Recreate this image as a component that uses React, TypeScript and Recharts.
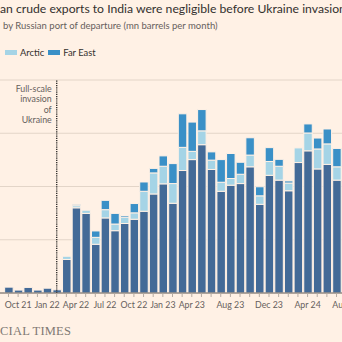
import { Bar, BarChart, CartesianGrid, ReferenceLine, XAxis, YAxis } from "recharts"

// mn barrels per month, by Russian port of departure
const months = [
  "Aug 21", "Sep 21", "Oct 21", "Nov 21", "Dec 21", "Jan 22", "Feb 22", "Mar 22",
  "Apr 22", "May 22", "Jun 22", "Jul 22", "Aug 22", "Sep 22", "Oct 22", "Nov 22",
  "Dec 22", "Jan 23", "Feb 23", "Mar 23", "Apr 23", "May 23", "Jun 23", "Jul 23",
  "Aug 23", "Sep 23", "Oct 23", "Nov 23", "Dec 23", "Jan 24", "Feb 24", "Mar 24",
  "Apr 24", "May 24", "Jun 24", "Jul 24", "Aug 24",
]
const west = [
  0, 2.2, 1.1, 2.1, 1.1, 1.8, 1.2, 12.6,
  32, 29.9, 18.3, 28.2, 23.4, 26.1, 27.7, 30.7,
  37.2, 41, 33.7, 46, 50.1, 55.7, 46.4, 38.2,
  40.5, 41.1, 47.4, 33.3, 44.2, 42.4, 38.4, 49,
  53.4, 46.6, 48.3, 42.4, null,
]
const arctic = [
  0, 0, 0, 0, 0, 0, 0, 1.2,
  0.8, 1.2, 2.6, 3.1, 2.5, 2.4, 2.4, 7.5,
  7.9, 6.6, 7.4, 8.7, 3.1, 5.2, 3.5, 3.4,
  2.5, 3.5, 4.4, 3.2, 5.2, 5.2, 2.9, 5.5,
  6.7, 7.5, 7.7, 5.0, null,
]
const farEast = [
  0, 0, 0, 0, 0, 0, 0, 0,
  0.5, 0, 2.4, 3.5, 4.0, 0.6, 3.5, 3.5,
  1.7, 3.9, 7.5, 12.6, 11, 8, 3.1, 8.5,
  9.4, 4.5, 6.5, 3.4, 5.2, 2.6, 0.8, 0,
  3.4, 4.1, 5.6, 6.9, null,
]
const xLabels = ["Oct 21", "Jan 22", "Apr 22", "Jul 22", "Oct 22", "Jan 23", "Apr 23", "Aug 23", "Dec 23", "Apr 24", "Aug 24"]
const yTicks = [0, 20, 40, 60, 80]
const invasionLines = ["Full-scale", "invasion", "of", "Ukraine"]

const data = months.map((m, i) => ({ month: m, west: west[i], arctic: arctic[i], farEast: farEast[i] }))

const BG = "#fff1e5"
const DARK = "#436a97"
const LIGHT = "#a5d4e6"
const MID = "#3a90c7"
const FONT = "Lato, 'Noto Sans', sans-serif"

function MonthTick(props: any) {
  const { x, y, payload } = props
  if (!xLabels.includes(payload.value)) return null
  return (
    <text x={x} y={y} dy="0.71em" textAnchor="middle" fontSize={8.8} fill="#66605c" fontFamily={FONT}>
      {payload.value}
    </text>
  )
}

function InvasionLabel(props: any) {
  const { viewBox } = props
  const x = viewBox.x - 5
  return (
    <text textAnchor="end" fontSize={8.8} fill="#66605c" fontFamily={FONT}>
      {invasionLines.map((l, i) => (
        <tspan key={l} x={x} y={viewBox.y + 12 + i * 10.3}>
          {l}
        </tspan>
      ))}
    </text>
  )
}

function Swatch({ color }: { color: string }) {
  return <span style={{ display: "inline-block", width: 12, height: 5, background: color, marginRight: 3 }} />
}

export default function App() {
  return (
    <div
      style={{
        position: "fixed",
        left: 0,
        top: 0,
        width: 342,
        height: 342,
        overflow: "hidden",
        background: BG,
        fontFamily: FONT,
        color: "#33302e",
      }}
    >
      <div style={{ position: "absolute", left: 0, top: 1, whiteSpace: "nowrap", fontSize: 12.2 }}>
        <span style={{ position: "absolute", right: "100%" }}>Russi</span>
        an crude exports to India were negligible before Ukraine invasion
      </div>
      <div style={{ position: "absolute", left: 3, top: 20, whiteSpace: "nowrap", fontSize: 9.5, color: "#66605c" }}>
        <span style={{ position: "absolute", right: "100%", paddingRight: 4 }}>Shipments</span>
        by Russian port of departure (mn barrels per month)
      </div>
      <div
        style={{
          position: "absolute",
          left: 5,
          top: 47,
          whiteSpace: "nowrap",
          fontSize: 9.4,
          display: "flex",
          alignItems: "center",
        }}
      >
        <span style={{ position: "absolute", right: "100%", paddingRight: 6, display: "flex", alignItems: "center" }}>
          <Swatch color={DARK} />
          Baltic & Black Sea
        </span>
        <Swatch color={LIGHT} />
        <span style={{ marginRight: 4 }}>Arctic</span>
        <Swatch color={MID} />
        <span>Far East</span>
      </div>
      <div style={{ position: "absolute", left: -6, top: 70 }}>
        <BarChart width={357} height={253} data={data} margin={{ top: 10, right: 0, bottom: 0, left: 0 }} barSize={8.5}>
          <CartesianGrid vertical={false} stroke="#e3d5c8" />
          <YAxis hide domain={[0, 80]} ticks={yTicks} />
          <XAxis
            dataKey="month"
            interval={0}
            height={30}
            stroke="#66605c"
            tickSize={4}
            tickMargin={5}
            tickLine={{ stroke: "#b5aba2" }}
            tick={<MonthTick />}
          />
          <Bar dataKey="west" stackId="a" fill={DARK} stroke={BG} strokeWidth={1} isAnimationActive={false} />
          <Bar dataKey="arctic" stackId="a" fill={LIGHT} stroke={BG} strokeWidth={1} isAnimationActive={false} />
          <Bar dataKey="farEast" stackId="a" fill={MID} stroke={BG} strokeWidth={1} isAnimationActive={false} />
          <ReferenceLine
            x="Feb 22"
            stroke="#33302e"
            strokeDasharray="1.2 1"
            strokeWidth={1.4}
            label={(p: any) => <InvasionLabel {...p} />}
          />
        </BarChart>
      </div>
      <div
        style={{
          position: "absolute",
          left: 0,
          top: 324,
          whiteSpace: "nowrap",
          fontSize: 12.5,
          fontFamily: "'Liberation Serif', serif",
          color: "#807973",
          letterSpacing: 0.2,
        }}
      >
        <span style={{ position: "absolute", right: "100%" }}>FINAN</span>
        CIAL TIMES
      </div>
    </div>
  )
}
